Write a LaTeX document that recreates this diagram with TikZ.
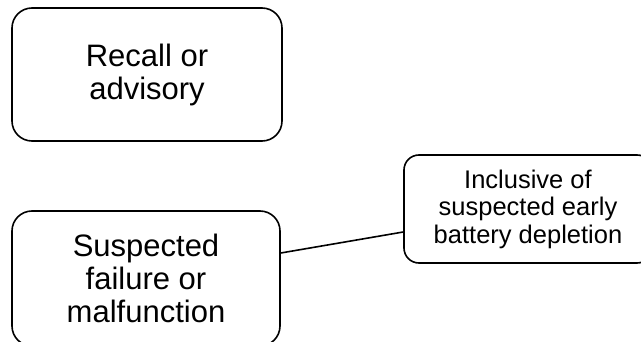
\documentclass[tikz,border=0pt]{standalone}
\usepackage{fontspec}
\setmainfont{Liberation Sans}
\begin{document}
\begin{tikzpicture}[x=1pt,y=1pt,
  bigbox/.style={draw=black, line width=1.6pt, rounded corners=20pt, align=center,
    font=\fontsize{31}{33}\selectfont, inner sep=0pt},
  smallbox/.style={draw=black, line width=1.6pt, rounded corners=15pt, align=center,
    font=\fontsize{25.5}{27.5}\selectfont, inner sep=0pt},
  conn/.style={draw=black, line width=1.6pt}]
\useasboundingbox (0,0) rectangle (641,341);
\begin{scope}
\clip (0,0) rectangle (641,341);
\node[bigbox, minimum width=270pt, minimum height=133pt] (b1) at (147,266.5) {Recall or\\advisory};
\node[bigbox, minimum width=268pt, minimum height=135pt] (b2) at (146,62.5) {Suspected\\failure or\\malfunction};
\node[smallbox, minimum width=248pt, minimum height=108pt] (b3) at (528,132) {Inclusive of\\suspected early\\battery depletion};
\draw[conn] ([yshift=25.5pt]b2.east) -- ([yshift=-23pt]b3.west);
\end{scope}
\end{tikzpicture}
\end{document}
